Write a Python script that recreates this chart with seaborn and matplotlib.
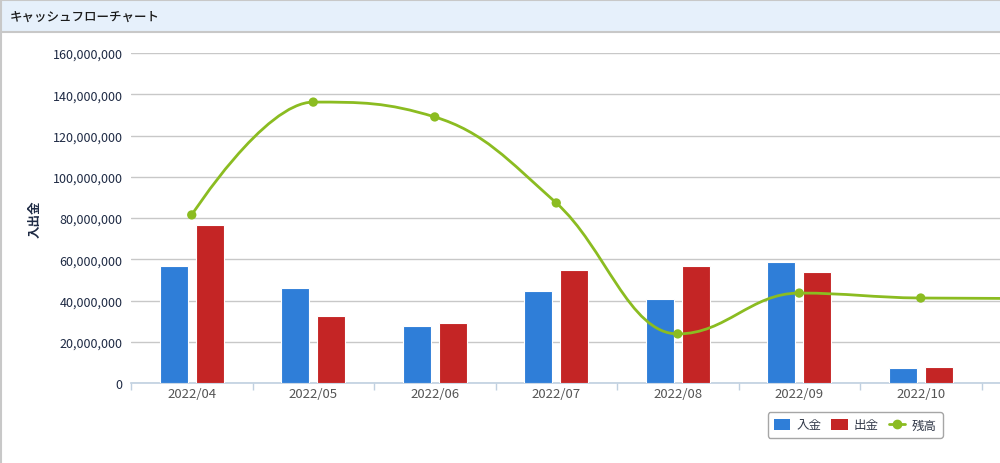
import numpy as np
import pandas as pd
import matplotlib
matplotlib.use("Agg")
import matplotlib.pyplot as plt
from matplotlib.path import Path
from matplotlib.patches import PathPatch, Rectangle
from matplotlib.lines import Line2D
from matplotlib.ticker import FuncFormatter, MultipleLocator
import seaborn as sns

# data (yen)
months = ["2022/04", "2022/05", "2022/06", "2022/07", "2022/08", "2022/09", "2022/10"]
income = [56700000, 46100000, 27600000, 44600000, 40700000, 58700000, 7300000]
expense = [76600000, 32500000, 29100000, 54800000, 56700000, 53800000, 7800000]
# balance continues into 2022/11, which is cut off at the right edge
balance_months = months + ["2022/11"]
balance = [81500000, 136200000, 129000000, 87300000, 23800000, 43600000, 41200000, 41000000]

c_in = "#2f7ed8"
c_out = "#c42525"
c_bal = "#8bbc21"

sns.set_theme(style="white")
plt.rcParams["font.family"] = ["Noto Sans CJK JP", "DejaVu Sans"]

fig = plt.figure(figsize=(10, 4.64), dpi=100)

# panel frame and title bar
fig.patches.append(Rectangle((0, 464 - 33), 1000, 33, transform=None, facecolor="#e6f0fb",
                             edgecolor="none", zorder=0))
fig.add_artist(Line2D([0, 1000], [463.5, 463.5], transform=None, color="#c8c8c8", lw=1.5))
fig.add_artist(Line2D([0, 1000], [464 - 32.5, 464 - 32.5], transform=None, color="#c8c8c8", lw=1.5))
fig.add_artist(Line2D([0.8, 0.8], [0, 464], transform=None, color="#c8c8c8", lw=1.5))
fig.text(10 / 1000, 1 - 17 / 464, "キャッシュフローチャート", fontsize=9, color="#1a1a1a",
         fontweight="medium", va="center", ha="left")

ax = fig.add_axes([131 / 1000, 1 - 384 / 464, 869 / 1000, 330 / 464])

df = pd.DataFrame({
    "month": months * 2,
    "amount": income + expense,
    "kind": ["入金"] * len(months) + ["出金"] * len(months),
})
sns.barplot(data=df, x="month", y="amount", hue="kind", order=months,
            hue_order=["入金", "出金"], palette=[c_in, c_out], width=0.59, gap=0.22,
            saturation=1, edgecolor="white", linewidth=0.8, legend=False, ax=ax, zorder=3)


def spline_path(xs, ys, smoothing=1.5):
    # highcharts-like spline through the points
    verts = [(xs[0], ys[0])]
    codes = [Path.MOVETO]
    n = len(xs)
    lc = [None] * n
    rc = [None] * n
    for i in range(n):
        if i == 0 or i == n - 1:
            lc[i] = (xs[i], ys[i])
            rc[i] = (xs[i], ys[i])
            continue
        d = smoothing + 1
        lx = (smoothing * xs[i] + xs[i - 1]) / d
        ly = (smoothing * ys[i] + ys[i - 1]) / d
        rx = (smoothing * xs[i] + xs[i + 1]) / d
        ry = (smoothing * ys[i] + ys[i + 1]) / d
        corr = (ry - ly) * (rx - xs[i]) / (rx - lx) + ys[i] - ry
        ly += corr
        ry += corr
        if ly > ys[i - 1] and ly > ys[i]:
            ly = max(ys[i - 1], ys[i]); ry = 2 * ys[i] - ly
        elif ly < ys[i - 1] and ly < ys[i]:
            ly = min(ys[i - 1], ys[i]); ry = 2 * ys[i] - ly
        if ry > ys[i + 1] and ry > ys[i]:
            ry = max(ys[i + 1], ys[i]); ly = 2 * ys[i] - ry
        elif ry < ys[i + 1] and ry < ys[i]:
            ry = min(ys[i + 1], ys[i]); ly = 2 * ys[i] - ry
        lc[i] = (lx, ly)
        rc[i] = (rx, ry)
    for i in range(1, n):
        verts += [rc[i - 1], lc[i], (xs[i], ys[i])]
        codes += [Path.CURVE4] * 3
    return Path(verts, codes)


bx = np.arange(len(balance_months), dtype=float)
by = np.array(balance, dtype=float)
ax.add_patch(PathPatch(spline_path(bx, by), facecolor="none", edgecolor=c_bal, lw=2,
                       zorder=5, clip_on=True))
sns.scatterplot(x=bx, y=by, color=c_bal, s=45, edgecolor="none", zorder=6, ax=ax,
                clip_on=True)

ax.set_xlim(-0.5, (1000 - 131) / 121.5 - 0.5)
ax.set_ylim(0, 160000000)
ax.yaxis.set_major_locator(MultipleLocator(20000000))
ax.yaxis.set_major_formatter(FuncFormatter(lambda v, p: f"{int(v):,}"))
ax.grid(axis="y", color="#c8c8c8", lw=1, zorder=0)
ax.set_axisbelow(True)
for s in ["top", "right", "left"]:
    ax.spines[s].set_visible(False)
ax.spines["bottom"].set_color("#c0d0e0")
ax.spines["bottom"].set_linewidth(1.2)

ax.set_xticks(np.arange(len(months)))
ax.set_xticklabels(months, fontsize=9.5, color="#555555")
ax.set_xticks(np.arange(len(months) + 1) - 0.5, minor=True)
ax.tick_params(axis="x", which="major", length=0, pad=3)
ax.tick_params(axis="x", which="minor", length=5, color="#c0d0e0", width=1, direction="out",
               bottom=True)
ax.tick_params(axis="y", length=0, labelsize=9, labelcolor="#1e2a44", pad=6)
ax.set_xlabel("")
ax.set_ylabel("入出金", fontsize=9, fontweight="bold", color="#1e2a44", labelpad=8)

# legend
handles = [
    Rectangle((0, 0), 1, 1, facecolor=c_in, edgecolor="none"),
    Rectangle((0, 0), 1, 1, facecolor=c_out, edgecolor="none"),
    Line2D([0], [0], color=c_bal, lw=2, marker="o", markersize=6),
]
leg = fig.legend(handles, ["入金", "出金", "残高"], loc="center",
                 bbox_to_anchor=(855 / 1000, 1 - 426 / 464), ncol=3, frameon=True,
                 fontsize=9, handlelength=1.3, handleheight=1.0, handletextpad=0.5,
                 columnspacing=0.8, borderpad=0.5, fancybox=True)
leg.get_frame().set_edgecolor("#909090")
leg.get_frame().set_linewidth(1)
for t in leg.get_texts():
    t.set_color("#333a4a")

fig.savefig("out.png", dpi=100)
